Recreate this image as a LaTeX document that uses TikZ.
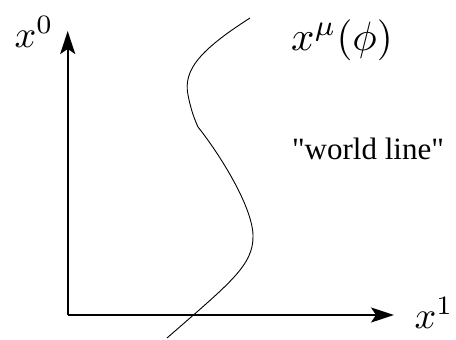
\documentclass[tikz,border=0pt]{standalone}
\usepackage{graphicx}
\usepackage{fontspec}
\newfontfamily\timesfont{Liberation Serif}
\usetikzlibrary{arrows.meta}
\newcommand{\bigmath}[2][3.8]{\scalebox{#1}{$#2$}}
\tikzset{
  axis/.style={line width=1.8pt,-{Stealth[length=23pt,width=15pt,inset=5pt]}},
  wline/.style={line width=0.9pt},
  mathlabel/.style={inner sep=0pt},
  textlabel/.style={inner sep=0pt,font=\timesfont\fontsize{31}{34}\selectfont}
}
\begin{document}
\begin{tikzpicture}[x=1pt,y=-1pt]
\useasboundingbox (0,0) rectangle (456,340);
\coordinate (o) at (67.7,315);
\coordinate (top) at (67.7,31);
\coordinate (right) at (394,315);
\draw[axis] (o) -- (top);
\draw[axis] (o) -- (right);
\coordinate (c0) at (250,18);
\coordinate (c1) at (188,95);
\coordinate (c2) at (198,127);
\coordinate (c3) at (253,235);
\coordinate (c4) at (167,338);
\draw[wline] (c0) .. controls (200,50) and (183,70) .. (c1)
  .. controls (191,110) and (194,118) .. (c2)
  .. controls (218,152) and (252,205) .. (c3)
  .. controls (254,265) and (230,283) .. (c4);
\node[mathlabel] (x0) at (34,32) {\bigmath{x^0}};
\node[mathlabel] (x1) at (434,313) {\bigmath{x^1}};
\node[mathlabel] (xmu) at (342,40) {\bigmath[4.1]{x^\mu(\phi)}};
\node[textlabel] (wl) at (368,149) {"world line"};
\end{tikzpicture}
\end{document}
